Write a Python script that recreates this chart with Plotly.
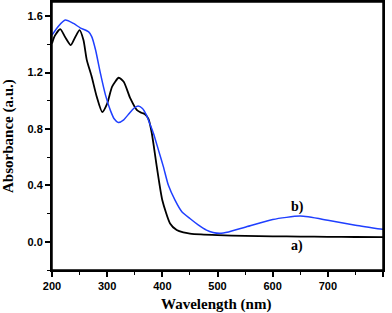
import plotly.graph_objects as go

# Curve a) (black)
wl_a = [200, 205, 215, 224, 234, 242, 250, 257, 263, 272, 281, 291, 300, 309, 321, 330,
        342, 354, 362, 368, 375, 381, 390, 400, 414, 426, 438, 450, 470, 500, 550, 600,
        650, 700, 750, 800]
abs_a = [1.406, 1.46, 1.508, 1.45, 1.394, 1.45, 1.50, 1.43, 1.29, 1.17, 1.03, 0.92, 0.98,
         1.10, 1.163, 1.134, 1.016, 0.933, 0.915, 0.905, 0.87, 0.768, 0.531, 0.295, 0.13,
         0.083, 0.066, 0.058, 0.052, 0.047, 0.042, 0.039, 0.037, 0.035, 0.034, 0.033]

# Curve b) (blue)
wl_b = [200, 212, 224, 239, 251, 266, 272, 279, 288, 297, 306, 313, 320, 330, 340, 348,
        356, 364, 371, 378, 384, 393, 402, 411, 423, 435, 450, 465, 480, 492, 504, 520,
        550, 600, 650, 700, 750, 800]
abs_b = [1.465, 1.53, 1.572, 1.548, 1.517, 1.49, 1.455, 1.36, 1.19, 1.04, 0.93, 0.87,
         0.846, 0.865, 0.91, 0.945, 0.962, 0.945, 0.90, 0.83, 0.768, 0.65, 0.531, 0.40,
         0.295, 0.215, 0.165, 0.12, 0.083, 0.066, 0.06, 0.07, 0.103, 0.158, 0.182, 0.153,
         0.118, 0.088]

labels = ["a)", "b)"]
label_x = [645, 645]
label_y = [-0.03, 0.245]

x_title = "Wavelength (nm)"
y_title = "Absorbance (a.u.)"

fig = go.Figure()
fig.add_trace(go.Scatter(x=wl_a, y=abs_a, mode="lines",
                         line=dict(color="black", width=1.8, shape="spline", smoothing=0.6)))
fig.add_trace(go.Scatter(x=wl_b, y=abs_b, mode="lines",
                         line=dict(color="#1f3fff", width=1.5, shape="spline", smoothing=0.6)))

serif_bold = dict(family="Liberation Serif", color="black", weight="bold")

for t, x, y in zip(labels, label_x, label_y):
    fig.add_annotation(x=x, y=y, text=t, showarrow=False, font=dict(size=14, **serif_bold))

fig.add_annotation(x=0.494, y=-0.127, xref="paper", yref="paper", text=x_title,
                   showarrow=False, xanchor="center", yanchor="middle",
                   font=dict(size=15, **serif_bold))
fig.add_annotation(x=-0.133, y=0.5, xref="paper", yref="paper", text=y_title,
                   showarrow=False, xanchor="center", yanchor="middle", textangle=-90,
                   font=dict(size=15, **serif_bold))

# plot frame
fig.add_shape(type="rect", xref="paper", yref="paper", x0=0, y0=0, x1=1, y1=1,
              line=dict(color="black", width=1.5), layer="above")

axis_common = dict(showline=True, linecolor="black", linewidth=2, mirror=True,
                   ticks="outside", ticklen=5, tickwidth=1.5, tickcolor="black",
                   showgrid=False, zeroline=False, automargin=False,
                   tickfont=dict(family="Liberation Sans", size=11, color="black", weight="bold"))

fig.update_xaxes(range=[200, 800], dtick=100, tick0=200,
                 minor=dict(dtick=50, ticks="outside", ticklen=3, tickwidth=1.2, tickcolor="black"),
                 **axis_common)
fig.update_yaxes(range=[-0.2, 1.7], dtick=0.4, tick0=0, tickformat=".1f",
                 minor=dict(dtick=0.2, tick0=0, ticks="outside", ticklen=3, tickwidth=1.2, tickcolor="black"),
                 **axis_common)

fig.update_layout(width=392, height=313, autosize=False,
                  margin=dict(l=52, r=9, t=2, b=43, autoexpand=False),
                  plot_bgcolor="white", paper_bgcolor="white", showlegend=False)

fig.write_html("out.html", config={"displayModeBar": False, "responsive": False},
               post_script="document.documentElement.style.margin='0';"
                           "document.body.style.margin='0';"
                           "document.body.style.padding='0';")
